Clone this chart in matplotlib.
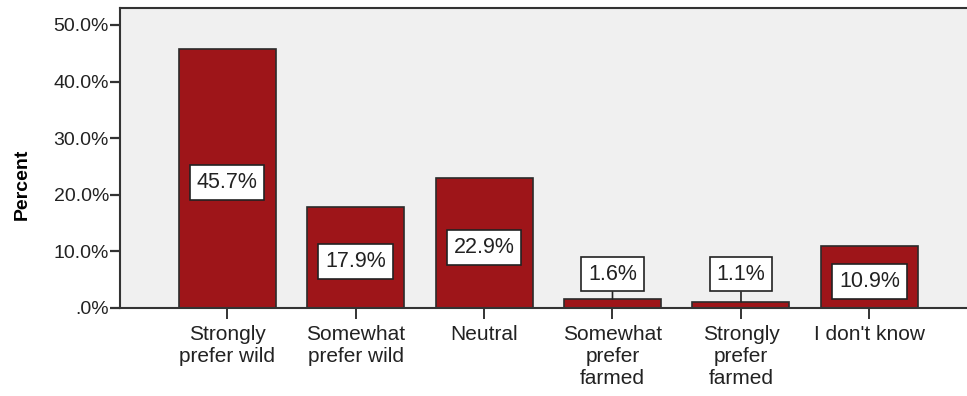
import matplotlib.pyplot as plt
from matplotlib.ticker import FuncFormatter

# Survey responses: preference for wild vs farmed
categories = ['Strongly\nprefer wild', 'Somewhat\nprefer wild', 'Neutral',
              'Somewhat\nprefer\nfarmed', 'Strongly\nprefer\nfarmed', "I don't know"]
percents = [45.7, 17.9, 22.9, 1.6, 1.1, 10.9]
y_ticks = [0, 10, 20, 30, 40, 50]

plt.rcParams['font.family'] = ['Liberation Sans', 'DejaVu Sans']

bar_color = '#9e1519'
ink = '#222222'

fig = plt.figure(figsize=(9.67, 3.96), dpi=100)
ax = fig.add_axes([120 / 967, 88 / 396, 847 / 967, 300 / 396])
ax.set_facecolor('#f0f0f0')

x = list(range(len(categories)))
ax.bar(x, percents, width=0.755, color=bar_color, edgecolor='#2b2b2b',
       linewidth=1.2, zorder=2)

# value labels: inside the bar for tall bars, above with a leader line for tiny ones
box = dict(boxstyle='square,pad=0.32', fc='white', ec=ink, lw=1.2)
for i, v in enumerate(percents):
    label = f'{v:.1f}%'
    if v >= 5:
        ax.annotate(label, xy=(i, v / 2), xytext=(0, -3), textcoords='offset points',
                    ha='center', va='center', fontsize=15.5, color=ink,
                    bbox=box, zorder=3)
    else:
        ax.annotate(label, xy=(i, v), xytext=(i, 6.0), textcoords='data',
                    ha='center', va='center', fontsize=15.5, color=ink,
                    bbox=box, zorder=3,
                    arrowprops=dict(arrowstyle='-', color=ink, lw=1.2,
                                    shrinkA=0, shrinkB=0))

ax.set_xlim(-0.833, 5.759)
ax.set_ylim(0, 53)
ax.set_yticks(y_ticks)
ax.yaxis.set_major_formatter(FuncFormatter(lambda v, p: '.0%' if v == 0 else f'{v:.1f}%'))
ax.set_xticks(x)
ax.set_xticklabels(categories, fontsize=15, color=ink, linespacing=1.2)

ax.tick_params(axis='y', length=7, width=1.6, color='#333333', labelsize=14,
               labelcolor=ink, pad=1)
ax.tick_params(axis='x', length=8, width=1.4, color='#333333', pad=4)

for side in ['left', 'bottom', 'top']:
    ax.spines[side].set_color('#333333')
    ax.spines[side].set_linewidth(1.5)
ax.spines['right'].set_visible(False)

fig.text(22 / 967, 1 - 184 / 396, 'Percent', rotation=90, fontsize=14,
         fontweight='bold', color='black', ha='center', va='center')

fig.savefig('out.png', dpi=100)
